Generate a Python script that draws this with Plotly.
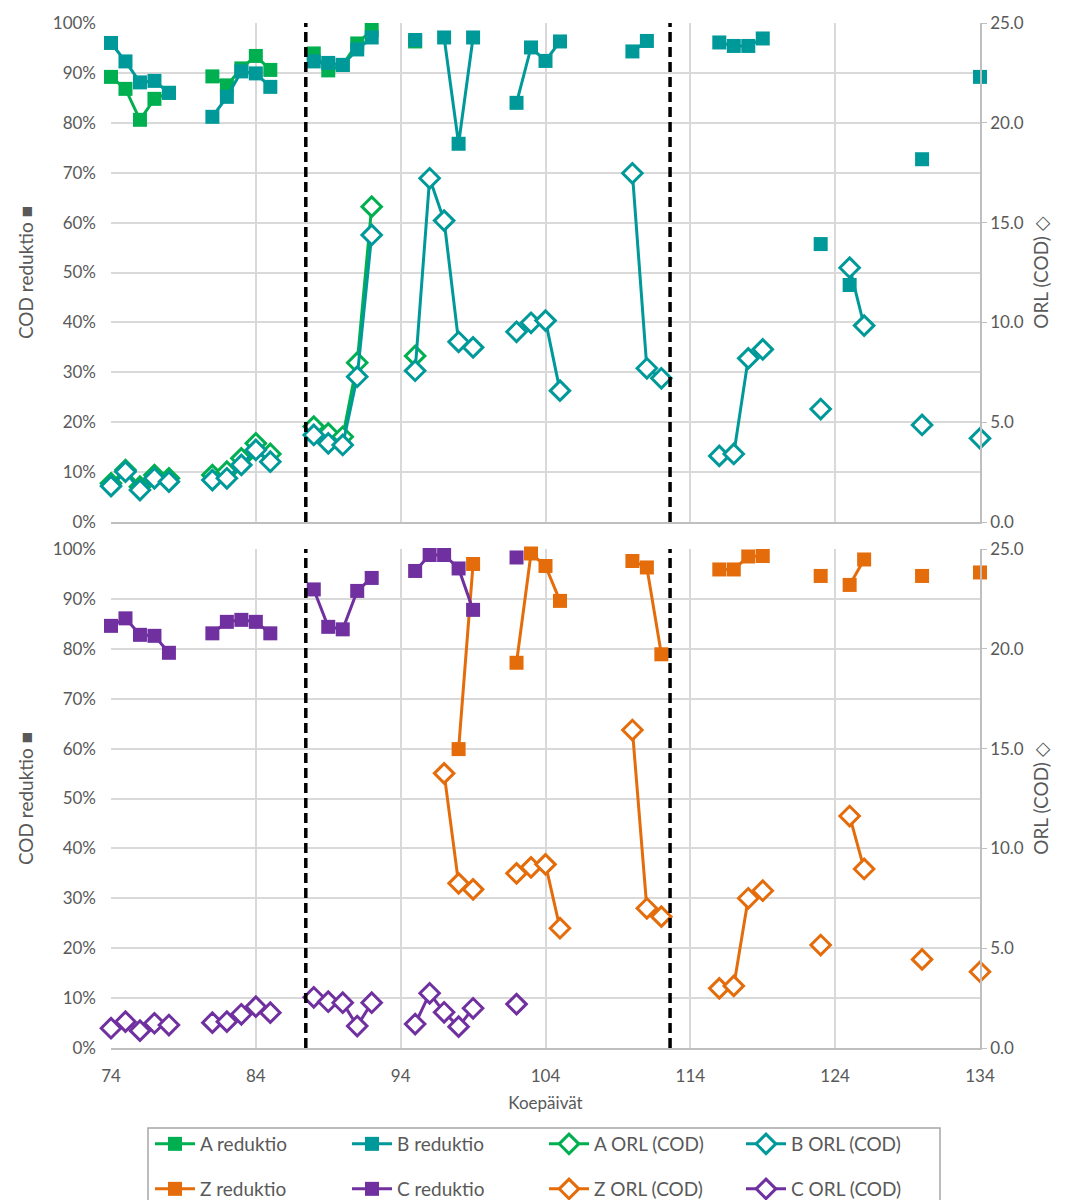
import plotly.graph_objects as go
from plotly.subplots import make_subplots

# ---- data: COD reduction (%) and organic loading rate ORL (COD) per test day ----
# None marks days without a measurement (breaks the connecting line)

a_days = [74, 75, 76, 77, 78, 79, 81, 82, 83, 84, 85, 86, 88, 89, 90, 91, 92, 93, 95]
a_reduktio = [89.2, 86.8, 80.6, 84.8, 86.0, None, 89.3, 87.5, 90.9, 93.4, 90.6, None,
              93.9, 90.5, 91.6, 95.9, 98.6, None, 96.3]
a_orl = [1.94, 2.60, 1.77, 2.35, 2.19, None, 2.35, 2.52, 3.19, 3.94, 3.41, None,
         4.78, 4.44, 4.27, 7.98, 15.8, None, 8.32]

b_red_days = [74, 75, 76, 77, 78, 79, 81, 82, 83, 84, 85, 86, 88, 89, 90, 91, 92, 93,
              95, 96, 97, 98, 99, 100, 102, 103, 104, 105, 106, 110, 111, 112,
              116, 117, 118, 119, 120, 123, 124, 125, 126, 130, 131, 134]
b_reduktio = [96.0, 92.3, 88.1, 88.4, 86.0, None, 81.2, 85.2, 90.3, 89.9, 87.2, None,
              92.3, 92.0, 91.6, 94.7, 97.1, None, 96.6, None, 97.1, 75.8, 97.1, None,
              84.0, 95.1, 92.4, 96.3, None, 94.3, 96.4, None,
              96.1, 95.4, 95.4, 96.9, None, 55.7, None, 47.5, None, 72.7, None, 89.2]

b_orl_days = [74, 75, 76, 77, 78, 79, 81, 82, 83, 84, 85, 86, 88, 89, 90, 91, 92, 93,
              95, 96, 97, 98, 99, 100, 102, 103, 104, 105, 106, 110, 111, 112, 113,
              116, 117, 118, 119, 120, 123, 124, 125, 126, 127, 130, 131, 134]
b_orl = [1.80, 2.52, 1.60, 2.19, 2.02, None, 2.10, 2.19, 2.86, 3.61, 3.02, None,
         4.36, 3.94, 3.86, 7.28, 14.38, None, 7.58, 17.22, 15.1, 9.03, 8.75, None,
         9.53, 9.98, 10.09, 6.58, None, 17.47, 7.70, 7.20, None,
         3.31, 3.41, 8.20, 8.65, None, 5.66, None, 12.74, 9.84, None, 4.86, None, 4.19]

c_days = [74, 75, 76, 77, 78, 79, 81, 82, 83, 84, 85, 86, 88, 89, 90, 91, 92, 93,
          95, 96, 97, 98, 99, 100, 102]
c_reduktio = [84.6, 86.1, 82.8, 82.6, 79.2, None, 83.1, 85.4, 85.8, 85.4, 83.1, None,
              91.9, 84.4, 83.9, 91.6, 94.2, None, 95.6, 98.8, 98.8, 96.1, 87.8, None, 98.3]
c_orl = [0.99, 1.32, 0.87, 1.24, 1.15, None, 1.27, 1.32, 1.69, 2.07, 1.77, None,
         2.54, 2.32, 2.27, 1.10, 2.27, None, 1.20, 2.74, 1.79, 1.07, 1.99, None, 2.20]

z_red_days = [98, 99, 100, 102, 103, 104, 105, 106, 110, 111, 112, 113,
              116, 117, 118, 119, 120, 123, 124, 125, 126, 127, 130, 131, 134]
z_reduktio = [59.9, 97.0, None, 77.2, 99.1, 96.6, 89.6, None, 97.6, 96.3, 78.9, None,
              95.9, 95.9, 98.5, 98.6, None, 94.6, None, 92.8, 97.9, None, 94.6, None, 95.3]

z_orl_days = [97, 98, 99, 100, 102, 103, 104, 105, 106, 110, 111, 112, 113,
              116, 117, 118, 119, 120, 123, 124, 125, 126, 127, 130, 131, 134]
z_orl = [13.76, 8.25, 7.95, None, 8.75, 9.05, 9.20, 6.00, None, 15.93, 7.00, 6.58, None,
         2.99, 3.11, 7.50, 7.88, None, 5.16, None, 11.62, 8.97, None, 4.44, None, 3.82]

# process change days (dashed separators)
phase_breaks = [87.45, 112.6]

x_ticks = [74, 84, 94, 104, 114, 124, 134]

# ---- styling ----
GREEN = "#00B050"
TEAL = "#009999"
ORANGE = "#E46C0A"
PURPLE = "#7030A0"
GRID = "#D9D9D9"
AXIS = "#BFBFBF"
TXT = "#595959"
FONT = "Lato, 'Open Sans', sans-serif"

W, H = 1071, 1200
L, R, T, B = 111, 91, 23, 152
PH = H - T - B  # plot-area height in px


def py(px_y):
    """paper y coordinate for a pixel row"""
    return (H - B - px_y) / PH


def px(px_x):
    """paper x coordinate for a pixel column"""
    return (px_x - L) / (W - L - R)


fig = make_subplots(rows=2, cols=1, shared_xaxes=True,
                    specs=[[{"secondary_y": True}], [{"secondary_y": True}]])


def red_trace(name, x, y, color, legend):
    return go.Scatter(x=x, y=y, name=name, mode="lines+markers",
                      line=dict(color=color, width=3),
                      marker=dict(symbol="square", size=14, color=color),
                      connectgaps=False, cliponaxis=False, legend=legend)


def orl_trace(name, x, y, color, legend):
    return go.Scatter(x=x, y=y, name=name, mode="lines+markers",
                      line=dict(color=color, width=3),
                      marker=dict(symbol="diamond", size=15, color="white",
                                  line=dict(color=color, width=3)),
                      connectgaps=False, cliponaxis=False, legend=legend)


# top panel: A and B
fig.add_trace(red_trace("A reduktio", a_days, a_reduktio, GREEN, "legend"), row=1, col=1, secondary_y=False)
fig.add_trace(red_trace("B reduktio", b_red_days, b_reduktio, TEAL, "legend"), row=1, col=1, secondary_y=False)
fig.add_trace(orl_trace("A ORL (COD)", a_days, a_orl, GREEN, "legend"), row=1, col=1, secondary_y=True)
fig.add_trace(orl_trace("B ORL (COD)", b_orl_days, b_orl, TEAL, "legend"), row=1, col=1, secondary_y=True)

# bottom panel: Z and C
fig.add_trace(red_trace("Z reduktio", z_red_days, z_reduktio, ORANGE, "legend2"), row=2, col=1, secondary_y=False)
fig.add_trace(red_trace("C reduktio", c_days, c_reduktio, PURPLE, "legend2"), row=2, col=1, secondary_y=False)
fig.add_trace(orl_trace("Z ORL (COD)", z_orl_days, z_orl, ORANGE, "legend2"), row=2, col=1, secondary_y=True)
fig.add_trace(orl_trace("C ORL (COD)", c_days, c_orl, PURPLE, "legend2"), row=2, col=1, secondary_y=True)

top_dom = [py(522), 1.0]
bot_dom = [0.0, py(549)]

xcommon = dict(domain=[0, 1], range=[74, 134], tickvals=x_ticks, showgrid=True, gridcolor=GRID,
               gridwidth=1.5, showline=True, linecolor=AXIS, linewidth=1.5, zeroline=False, ticks="",
               automargin=False, ticklabelstandoff=12, tickfont=dict(family=FONT, size=17, color=TXT))
fig.update_xaxes(**xcommon)
fig.update_xaxes(showticklabels=False, row=1, col=1)
fig.update_xaxes(title=dict(text="Koepäivät", font=dict(family=FONT, size=17, color=TXT), standoff=12),
                 row=2, col=1)

left = dict(range=[0, 100], dtick=10, ticksuffix="%", showgrid=True, gridcolor=GRID, gridwidth=1.5,
            zeroline=False, showline=False, ticks="", ticklabelstandoff=14, automargin=False,
            tickfont=dict(family=FONT, size=17, color=TXT),
            title=dict(text="COD reduktio ■", font=dict(family=FONT, size=19, color=TXT), standoff=14))
right = dict(range=[0, 25], dtick=5, tickformat=".1f", showgrid=False, zeroline=False,
             showline=True, linecolor=AXIS, linewidth=1.5, ticks="outside", ticklen=5, tickcolor=AXIS,
             automargin=False, tickfont=dict(family=FONT, size=17, color=TXT),
             title=dict(text="ORL (COD) ◇", font=dict(family=FONT, size=19, color=TXT), standoff=12))

fig.update_layout(
    yaxis=dict(domain=top_dom, **left),
    yaxis2=dict(domain=top_dom, **right),
    yaxis3=dict(domain=bot_dom, **left),
    yaxis4=dict(domain=bot_dom, **right),
)

# dashed separators spanning each panel
shapes = []
for yref in ["y domain", "y3 domain"]:
    for xb in phase_breaks:
        shapes.append(dict(type="line", xref="x", yref=yref, x0=xb, x1=xb, y0=0, y1=1,
                           line=dict(color="black", width=3.5, dash="10px,5px"), layer="above"))
# frame around the two-row legend
shapes.append(dict(type="rect", xref="paper", yref="paper",
                   x0=px(148), x1=px(940), y0=py(1128), y1=py(1215),
                   line=dict(color="#A6A6A6", width=1.5), fillcolor="rgba(0,0,0,0)", layer="below"))

legend_font = dict(family=FONT, size=19, color=TXT)
legend_row = dict(orientation="h", x=px(150), xanchor="left", yanchor="middle",
                  entrywidth=142, entrywidthmode="pixels", font=legend_font,
                  bgcolor="rgba(0,0,0,0)", traceorder="normal", itemwidth=40)
fig.update_layout(
    width=W, height=H,
    margin=dict(l=L, r=R, t=T, b=B, autoexpand=False),
    paper_bgcolor="white", plot_bgcolor="white",
    shapes=shapes,
    showlegend=True,
    legend=dict(y=py(1144), **legend_row),
    legend2=dict(y=py(1189), **legend_row),
)

fig.write_html("out.html")
